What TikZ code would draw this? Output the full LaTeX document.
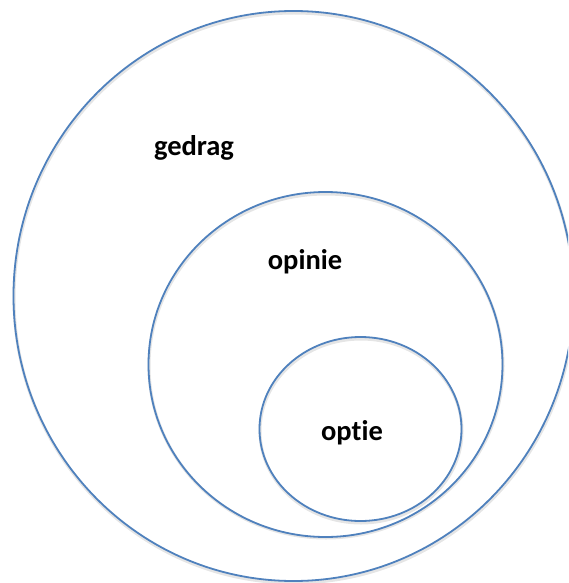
\documentclass[tikz,border=0pt]{standalone}
\usepackage{fontspec}
\setmainfont{Carlito}[Ligatures={NoCommon}]
\begin{document}
\begin{tikzpicture}[x=1pt,y=-1pt,
  ring/.style={draw=ringblue,line width=1.8pt},
  ringshadow/.style={draw=black!10,line width=3pt},
  lbl/.style={font=\fontsize{28.5}{32}\selectfont\bfseries,text=black,inner sep=0pt}]
\definecolor{ringblue}{HTML}{4F81BD}
\useasboundingbox (0,0) rectangle (568,583);
\clip (0,0) rectangle (568,583);
\draw[ringshadow] (294,298) ellipse [x radius=280,y radius=285];
\draw[ringshadow] (326,366) ellipse [x radius=177,y radius=172];
\draw[ringshadow] (361,431) ellipse [x radius=101,y radius=92];
\draw[ring] (293.5,296) ellipse [x radius=280,y radius=285];
\draw[ring] (325.5,364.5) ellipse [x radius=177,y radius=172.5];
\draw[ring] (360.5,429) ellipse [x radius=101,y radius=92];
\node[lbl] (gedrag) at (194,148) {gedrag};
\node[lbl] (opinie) at (305,262) {opinie};
\node[lbl] (optie) at (352,433) {optie};
\end{tikzpicture}
\end{document}
